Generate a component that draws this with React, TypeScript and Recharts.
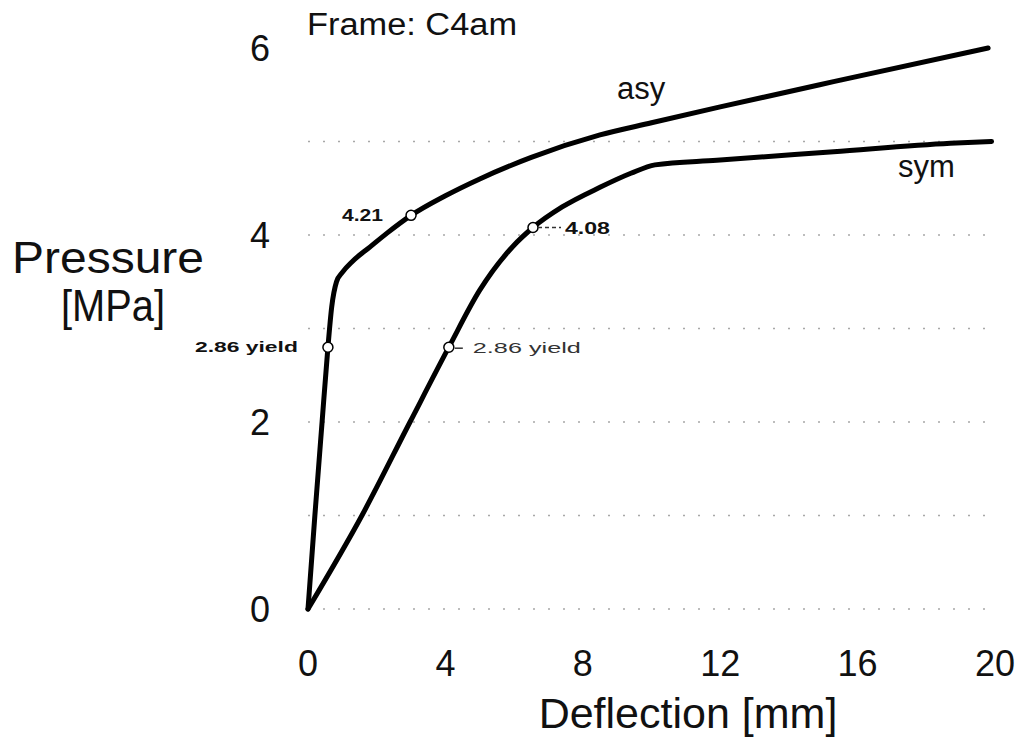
import { LineChart, Line, XAxis, YAxis, CartesianGrid, ReferenceDot } from 'recharts';

// deflection [mm] / pressure [MPa]
const asyX = [0, 0.2, 0.41, 0.58, 0.69, 0.83, 1.0, 1.3, 1.8, 2.3, 3.0, 4.0, 5.0, 6.5, 8.5, 10, 12, 15.3, 19.8];
const asyP = [0, 1.0, 2.0, 2.8, 3.23, 3.5, 3.6, 3.72, 3.87, 4.02, 4.21, 4.42, 4.6, 4.83, 5.07, 5.2, 5.37, 5.64, 6.0];

const symX = [0, 1.57, 2.97, 4.1, 5.0, 5.97, 6.55, 7.4, 8.5, 9.4, 10.1, 11.9, 15.3, 18.7, 19.9];
const symP = [0, 1.0, 2.0, 2.8, 3.41, 3.88, 4.08, 4.3, 4.51, 4.66, 4.75, 4.8, 4.89, 4.98, 5.0];

// marked points: yield and the knee
const markX = [0.58, 3.0, 4.1, 6.55];
const markP = [2.8, 4.21, 2.8, 4.08];
const markText = ['2.86 yield', '4.21', '2.86 yield', '4.08'];

const xTicks = [0, 4, 8, 12, 16, 20];
const yTicks = [0, 2, 4, 6];
const gridLevels = [0, 1, 2, 3, 4, 5];

const asyData = asyX.map((x, i) => ({ x, p: asyP[i] }));
const symData = symX.map((x, i) => ({ x, p: symP[i] }));

const FONT = '"Liberation Sans", Arial, sans-serif';

// how each marker note sits next to its circle
function noteFor(i: number) {
  // eslint-disable-next-line @typescript-eslint/no-explicit-any
  return (props: any) => {
    const vb = props.viewBox;
    const cx = vb.x + vb.width / 2;
    const cy = vb.y + vb.height / 2;
    const t = markText[i];
    if (i === 0) {
      return (
        <text x={cx - 30} y={cy + 5} textAnchor="end" fontSize={15} fontWeight="bold" fontFamily={FONT}
          textLength={103} lengthAdjust="spacingAndGlyphs" fill="#111">{t}</text>
      );
    }
    if (i === 1) {
      return (
        <text x={cx - 28} y={cy + 6} textAnchor="end" fontSize={17} fontWeight="bold" fontFamily={FONT}
          textLength={41} lengthAdjust="spacingAndGlyphs" fill="#111">{t}</text>
      );
    }
    if (i === 2) {
      return (
        <g>
          <line x1={cx + 6} x2={cx + 14} y1={cy + 1} y2={cy + 1} stroke="#333" strokeWidth={1.5} />
          <text x={cx + 24} y={cy + 6} fontSize={15} fontFamily={FONT}
            textLength={108} lengthAdjust="spacingAndGlyphs" fill="#333">{t}</text>
        </g>
      );
    }
    return (
      <g>
        <line x1={cx + 5} x2={cx + 28} y1={cy} y2={cy} stroke="#333" strokeWidth={1.5} strokeDasharray="4 3" />
        <text x={cx + 32} y={cy + 6} fontSize={17} fontWeight="bold" fontFamily={FONT}
          textLength={45} lengthAdjust="spacingAndGlyphs" fill="#111">{t}</text>
      </g>
    );
  };
}

export default function App() {
  return (
    <div style={{ position: 'absolute', left: 0, top: 0, width: 1025, height: 753, background: '#fff' }}>
      <LineChart width={1025} height={753} margin={{ top: 48, right: 30, bottom: 84, left: 248 }}>
        <CartesianGrid horizontal vertical={false} horizontalValues={gridLevels}
          stroke="#a8a8a8" strokeDasharray="2 13" strokeWidth={1.5} />
        <XAxis
          type="number"
          dataKey="x"
          domain={[0, 20]}
          ticks={xTicks}
          interval={0}
          axisLine={false}
          tickLine={false}
          height={60}
          // eslint-disable-next-line @typescript-eslint/no-explicit-any
          tick={(p: any) => (
            <text x={p.x} y={676} textAnchor="middle" fontSize={36} fontFamily={FONT} fill="#111">
              {p.payload.value}
            </text>
          )}
        />
        <YAxis
          type="number"
          domain={[0, 6]}
          ticks={yTicks}
          interval={0}
          axisLine={false}
          tickLine={false}
          width={60}
          // eslint-disable-next-line @typescript-eslint/no-explicit-any
          tick={(p: any) => (
            <text x={260} y={p.y + 13} textAnchor="middle" fontSize={36} fontFamily={FONT} fill="#111">
              {p.payload.value}
            </text>
          )}
        />
        <Line data={asyData} dataKey="p" type="monotone" stroke="#000" strokeWidth={5} dot={false}
          strokeLinejoin="round" strokeLinecap="round" isAnimationActive={false} />
        <Line data={symData} dataKey="p" type="monotone" stroke="#000" strokeWidth={5} dot={false}
          strokeLinejoin="round" strokeLinecap="round" isAnimationActive={false} />
        {markX.map((x, i) => (
          <ReferenceDot key={i} x={x} y={markP[i]} r={5} fill="#fff" stroke="#000" strokeWidth={1.5}
            ifOverflow="visible" label={noteFor(i)} />
        ))}
      </LineChart>
      <svg width={1025} height={753} style={{ position: 'absolute', left: 0, top: 0, pointerEvents: 'none' }}>
        <g fontFamily={FONT} fill="#111">
          <text x={307} y={35} fontSize={31} textLength={210} lengthAdjust="spacingAndGlyphs">Frame: C4am</text>
          <text x={108} y={273} fontSize={45} textAnchor="middle" textLength={192} lengthAdjust="spacingAndGlyphs">Pressure</text>
          <text x={113} y={321} fontSize={45} textAnchor="middle" textLength={104} lengthAdjust="spacingAndGlyphs">[MPa]</text>
          <text x={617} y={99} fontSize={31}>asy</text>
          <text x={898} y={177} fontSize={31}>sym</text>
          <text x={688} y={728} fontSize={43} textAnchor="middle">Deflection [mm]</text>
        </g>
      </svg>
    </div>
  );
}
